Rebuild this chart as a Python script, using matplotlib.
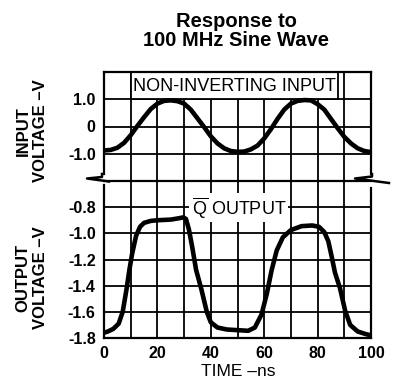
import numpy as np
import matplotlib.pyplot as plt
from matplotlib.lines import Line2D
from matplotlib.patches import Rectangle

plt.rcParams['font.family'] = 'Liberation Sans'
plt.rcParams['mathtext.fontset'] = 'custom'
plt.rcParams['mathtext.rm'] = 'Liberation Sans'

# input sine, read every 2.5 ns
t_in = np.arange(0, 100.1, 2.5)
v_in = [-0.88, -0.86, -0.78, -0.60, -0.32, 0.02, 0.34, 0.64, 0.84, 0.94, 0.96,
        0.93, 0.84, 0.62, 0.30, -0.02, -0.36, -0.62, -0.80, -0.90, -0.93,
        -0.92, -0.84, -0.70, -0.44, -0.10, 0.28, 0.62, 0.84, 0.94, 0.97,
        0.96, 0.82, 0.62, 0.28, -0.06, -0.38, -0.62, -0.80, -0.90, -0.94]

# Q-bar output
t_out = [0, 1.5, 3.5, 5.5, 7, 8.5, 9.5, 10.5, 12, 13.5, 15, 17.5, 20, 25, 28,
         29.7, 30.7, 31.8, 33, 34.5, 36.5, 38.5, 40, 42.5, 46, 50, 54, 56.5,
         59, 61, 62.8, 64.7, 67, 70, 74, 78, 80.5, 82.5, 84, 85.3, 86.5, 88.4,
         90.3, 92.2, 95, 98, 100]
v_out = [-1.76, -1.75, -1.73, -1.69, -1.60, -1.42, -1.28, -1.16, -1.02, -0.95,
         -0.92, -0.905, -0.90, -0.895, -0.885, -0.878, -0.89, -0.97, -1.10,
         -1.28, -1.43, -1.60, -1.68, -1.72, -1.735, -1.74, -1.745, -1.72,
         -1.62, -1.46, -1.28, -1.13, -1.03, -0.975, -0.945, -0.94, -0.95,
         -0.99, -1.06, -1.18, -1.30, -1.42, -1.59, -1.70, -1.75, -1.77, -1.78]

x_ticks = [0, 20, 40, 60, 80, 100]
in_ticks = [-1.0, 0, 1.0]
in_labels = ['-1.0', '0', '1.0']
out_ticks = [-1.8, -1.6, -1.4, -1.2, -1.0, -0.8]
out_labels = ['-1.8', '-1.6', '-1.4', '-1.2', '-1.0', '-0.8']

W, H = 395, 383
fig = plt.figure(figsize=(W / 100, H / 100), dpi=100)

def px(x, y):
    return x / W, 1 - y / H

L, R, T, MID, B = 104, 371, 72, 181, 338
ax1 = fig.add_axes([L / W, 1 - MID / H, (R - L) / W, (MID - T) / H])
ax2 = fig.add_axes([L / W, 1 - B / H, (R - L) / W, (B - MID) / H])

lw_grid = 1.3
for ax in (ax1, ax2):
    ax.set_xlim(0, 100)
    for xv in range(10, 100, 10):
        ax.axvline(xv, color='black', lw=lw_grid, zorder=1)
    ax.tick_params(length=0, labelsize=11.5, pad=6)
    for s in ax.spines.values():
        s.set_linewidth(1.6)

ax1.set_ylim(-2, 2)
for yv in in_ticks:
    ax1.axhline(yv, color='black', lw=lw_grid, zorder=1)
ax1.set_yticks(in_ticks, in_labels, fontweight='bold', fontsize=11.5)
ax1.set_xticks([])
ax1.spines['bottom'].set_visible(False)
ax1.spines['left'].set_bounds(-1.75, 2)
ax1.spines['right'].set_bounds(-1.75, 2)
ax1.plot(t_in, v_in, color='black', lw=3.3, solid_capstyle='round', zorder=3)

ax2.set_ylim(-1.8, -0.6)
for yv in out_ticks[1:]:
    ax2.axhline(yv, color='black', lw=lw_grid, zorder=1)
ax2.set_yticks(out_ticks, out_labels, fontweight='bold', fontsize=11.5)
ax2.set_xticks(x_ticks, [str(v) for v in x_ticks], fontweight='bold', fontsize=11.5)
ax2.spines['left'].set_bounds(-1.8, -0.63)
ax2.spines['right'].set_bounds(-1.8, -0.65)
ax2.plot(t_out, v_out, color='black', lw=3.3, solid_capstyle='round', zorder=3)

# label boxes
ax1.add_patch(Rectangle((10, 1.0), 77.5, 1.0, facecolor='white',
                        edgecolor='black', lw=lw_grid, zorder=2))
ax1.text(49, 1.45, 'NON-INVERTING INPUT', ha='center', va='center',
         fontsize=13, zorder=4)
ax2.text(50.5, -0.8, r'$\overline{\mathrm{Q}}$ OUTPUT', ha='center',
         va='center', fontsize=13, zorder=4,
         bbox=dict(facecolor='white', edgecolor='none', pad=1.5))

# axis break marks
for pts in ([(102, 174), (102, 177), (87, 178.5), (109, 181.5)],
            [(372, 174), (372, 176.5), (355, 178.5), (389, 183)]):
    xs, ys = zip(*[px(*p) for p in pts])
    fig.add_artist(Line2D(xs, ys, color='black', lw=1.8))

fig.text(*px(236, 12), 'Response to\n100 MHz Sine Wave', ha='center', va='top',
         fontsize=14.5, fontweight='bold', linespacing=1.0)
fig.text(*px(32, 131), 'INPUT\nVOLTAGE \u2013V', ha='center', va='center',
         rotation=90, fontsize=12, fontweight='bold', multialignment='center')
fig.text(*px(32, 278), 'OUTPUT\nVOLTAGE \u2013V', ha='center', va='center',
         rotation=90, fontsize=12, fontweight='bold', multialignment='center')
fig.text(*px(238, 371), 'TIME \u2013ns', ha='center', va='center', fontsize=12.5)

fig.savefig('out.png', dpi=100)
